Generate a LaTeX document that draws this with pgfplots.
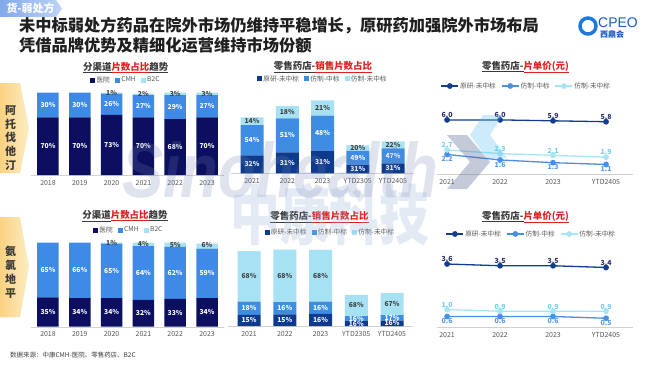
\documentclass[border=0pt]{standalone}
\usepackage{pgfplots}
\pgfplotsset{compat=1.18}
\usepackage{fontspec}
\setmainfont{Noto Sans CJK SC}
\newfontfamily\wmfont{Liberation Sans}
\definecolor{hosp}{RGB}{12,14,96}
\definecolor{cmh}{RGB}{62,138,230}
\definecolor{btc}{RGB}{166,226,243}
\definecolor{yy}{RGB}{13,58,140}
\definecolor{fz}{RGB}{63,141,227}
\definecolor{fw}{RGB}{166,226,243}
\definecolor{lyy}{RGB}{18,61,142}
\definecolor{lfz}{RGB}{74,143,226}
\definecolor{lfw}{RGB}{168,228,245}
\definecolor{tyy}{RGB}{43,47,107}
\definecolor{tfz}{RGB}{90,155,230}
\definecolor{tfw}{RGB}{120,205,240}
\definecolor{tred}{RGB}{224,32,32}
\definecolor{tdark}{RGB}{58,58,58}
\definecolor{tickc}{RGB}{89,89,89}
\definecolor{lbdark}{RGB}{64,64,64}
\definecolor{chevA}{RGB}{90,105,145}
\definecolor{chevB}{RGB}{90,190,240}
\definecolor{wmA}{RGB}{110,130,175}
\definecolor{wmB}{RGB}{150,175,215}
\definecolor{logoc}{RGB}{25,90,195}
\definecolor{ringc}{RGB}{30,120,225}
\pgfplotsset{
  /pgf/number format/assume math mode=true,
  base/.style={scale only axis, clip=false, axis x line*=bottom, hide y axis,
    x axis line style={draw=black!18,-}, xtick style={draw=none}, major tick length=0pt,
    ticklabel style={font=\fontsize{7}{8}\selectfont, text=tickc},
    xticklabel style={yshift=-1.5bp},
    legend style={draw=none, fill=none, font=\fontsize{6.7}{8}\selectfont, text=tickc,
      nodes={inner sep=1.2bp},
      legend columns=3, /tikz/every even column/.append style={column sep=4bp}}},
  sq/.style={legend image code/.code={\fill[##1] (0bp,-2.5bp) rectangle (5bp,2.5bp);}},
  lab/.style={scale only axis, clip=false, hide axis},
  seglab/.style={draw=none, mark=none, point meta=explicit symbolic,
    nodes near coords={\pgfplotspointmeta\%},
    every node near coord/.style={anchor=center, inner sep=0pt,
      font=\bfseries\fontsize{6.8}{7}\selectfont, text=#1}},
  linelab/.style 2 args={nodes near coords={\pgfmathprintnumber[fixed,fixed zerofill,precision=1]{\pgfplotspointmeta}},
    every node near coord/.style={anchor=#1, inner sep=1.5bp, font=\bfseries\fontsize{7}{8}\selectfont, text=#2}},
}
\begin{document}
\begin{tikzpicture}[x=1bp,y=1bp]
\path[use as bounding box, fill=white] (0,0) rectangle (650,365);
% tag
\shade[left color={rgb,255:red,130;green,168;blue,234}, right color={rgb,255:red,190;green,212;blue,248}]
  (0,365) -- (56,365) -- (62,356.5) -- (56,348) -- (0,348) -- cycle;
\node[anchor=west, text=white, font=\bfseries\fontsize{11}{12}\selectfont] at (3,356.5) {货-弱处方};
% title
\node[anchor=west, inner sep=0pt, font=\bfseries\fontsize{16.3}{17}\selectfont, text=black!88] at (19,339) {未中标弱处方药品在院外市场仍维持平稳增长，原研药加强院外市场布局};
\node[anchor=west, inner sep=0pt, font=\bfseries\fontsize{16.3}{17}\selectfont, text=black!88] at (19,320) {凭借品牌优势及精细化运营维持市场份额};
% logo
\draw[line width=3.5, ringc] (588,339) circle (8);
\node[anchor=west, inner sep=0pt, font=\wmfont\fontsize{14}{14}\selectfont, text=logoc] at (598,342) {CPEO};
\node[anchor=west, inner sep=0pt, font=\bfseries\fontsize{8}{8}\selectfont, text=logoc] at (600,331) {西鼎会};
% row labels
\shade[left color={rgb,255:red,250;green,210;blue,130}, right color={rgb,255:red,253;green,236;blue,195}]
  (0,282) -- (20,282) -- (29,237) -- (20,192) -- (0,192) -- cycle;
\node[align=center, font=\bfseries\fontsize{11}{14}\selectfont, text=tdark] at (10.5,227) {阿\\托\\伐\\他\\汀};
\shade[left color={rgb,255:red,250;green,210;blue,130}, right color={rgb,255:red,253;green,236;blue,195}]
  (0,148) -- (20,148) -- (29,98) -- (20,48) -- (0,48) -- cycle;
\node[align=center, font=\bfseries\fontsize{11}{14}\selectfont, text=tdark] at (10.5,93) {氨\\氯\\地\\平};
% panel titles
\node[inner sep=0pt, font=\bfseries\fontsize{9.5}{10}\selectfont] at (125.7,297.3) {{\color{tdark}\underline{分渠道}}{\color{tred}\underline{片数占比}}{\color{tdark}\underline{趋势}}};
\node[inner sep=0pt, font=\bfseries\fontsize{9.5}{10}\selectfont] at (125,149.3) {{\color{tdark}\underline{分渠道}}{\color{tred}\underline{片数占比}}{\color{tdark}\underline{趋势}}};
\node[inner sep=0pt, font=\bfseries\fontsize{9.5}{10}\selectfont] at (323,298) {{\color{tdark}\underline{零售药店-}}{\color{tred}\underline{销售片数占比}}};
\node[inner sep=0pt, font=\bfseries\fontsize{9.5}{10}\selectfont] at (319.5,148) {{\color{tdark}\underline{零售药店-}}{\color{tred}\underline{销售片数占比}}};
\node[inner sep=0pt, font=\bfseries\fontsize{9.5}{10}\selectfont] at (525.5,298) {{\color{tdark}\underline{零售药店-}}{\color{tred}\underline{片单价(元)}}};
\node[inner sep=0pt, font=\bfseries\fontsize{9.5}{10}\selectfont] at (525.5,148) {{\color{tdark}\underline{零售药店-}}{\color{tred}\underline{片单价(元)}}};
% source
\node[anchor=west, inner sep=0pt, font=\fontsize{6.5}{7}\selectfont, text=lbdark] at (10,10) {数据来源：中康CMH-医院、零售药店、B2C};

% ===== Left top =====
\begin{axis}[base, at={(30.5bp,190bp)}, anchor=south west, width=194bp, height=82.3bp,
  ybar stacked, bar width=21.5bp, xmin=-0.55, xmax=5.55, ymin=0, ymax=100,
  xtick={0,...,5}, xticklabels={2018,2019,2020,2021,2022,2023},
  legend style={at={(0.49,1.154)}, anchor=center}, sq]
\addplot[fill=hosp, draw=none] coordinates {(0,70)(1,70)(2,73)(3,70)(4,68)(5,70)};
\addplot[fill=cmh, draw=none] coordinates {(0,30)(1,30)(2,26)(3,27)(4,29)(5,27)};
\addplot[fill=btc, draw=none] coordinates {(0,0)(1,0)(2,1)(3,2)(4,3)(5,3)};
\legend{医院,CMH,B2C}
\end{axis}
\begin{axis}[lab, at={(30.5bp,190bp)}, anchor=south west, width=194bp, height=82.3bp,
  xmin=-0.55, xmax=5.55, ymin=0, ymax=100]
\addplot[seglab=white] coordinates {(0,35)[70] (1,35)[70] (2,36.5)[73] (3,35)[70] (4,34)[68] (5,35)[70]};
\addplot[seglab=white] coordinates {(0,85)[30] (1,85)[30] (2,86)[26] (3,83.5)[27] (4,82.5)[29] (5,83.5)[27]};
\addplot[seglab=lbdark] coordinates {(2,99.5)[1] (3,99)[2] (4,98.5)[3] (5,98.5)[3]};
\end{axis}

% ===== Left bottom =====
\begin{axis}[base, at={(30.5bp,38.3bp)}, anchor=south west, width=194bp, height=84bp,
  ybar stacked, bar width=21.5bp, xmin=-0.55, xmax=5.55, ymin=0, ymax=100,
  xtick={0,...,5}, xticklabels={2018,2019,2020,2021,2022,2023},
  legend style={at={(0.505,1.151)}, anchor=center}, sq]
\addplot[fill=hosp, draw=none] coordinates {(0,35)(1,34)(2,34)(3,32)(4,33)(5,34)};
\addplot[fill=cmh, draw=none] coordinates {(0,65)(1,66)(2,65)(3,64)(4,62)(5,59)};
\addplot[fill=btc, draw=none] coordinates {(0,0)(1,0)(2,1)(3,4)(4,5)(5,6)};
\legend{医院,CMH,B2C}
\end{axis}
\begin{axis}[lab, at={(30.5bp,38.3bp)}, anchor=south west, width=194bp, height=84bp,
  xmin=-0.55, xmax=5.55, ymin=0, ymax=100]
\addplot[seglab=white] coordinates {(0,17.5)[35] (1,17)[34] (2,17)[34] (3,16)[32] (4,16.5)[33] (5,17)[34]};
\addplot[seglab=white] coordinates {(0,67.5)[65] (1,67)[66] (2,66.5)[65] (3,64)[64] (4,64)[62] (5,63.5)[59]};
\addplot[seglab=lbdark] coordinates {(2,99.5)[1] (3,98)[4] (4,97.5)[5] (5,97)[6]};
\end{axis}

% ===== Middle top =====
\begin{axis}[base, at={(230.85bp,191.7bp)}, anchor=south west, width=183.3bp, height=80bp,
  ybar stacked, bar width=23bp, xmin=-0.6, xmax=4.6, ymin=0, ymax=80,
  xtick={0,...,4}, xticklabels={2021,2022,2023,YTD2305,YTD2405},
  legend style={at={(0.5,1.179)}, anchor=center}, sq]
\addplot[fill=yy, draw=none] coordinates {(0,17.9)(1,20.8)(2,22.6)(3,8.7)(4,9.9)};
\addplot[fill=fz, draw=none] coordinates {(0,30.2)(1,34.2)(2,35.0)(3,13.7)(4,15.0)};
\addplot[fill=fw, draw=none] coordinates {(0,7.8)(1,12.1)(2,15.3)(3,5.6)(4,7.0)};
\legend{原研-未中标,仿制-中标,仿制-未中标}
\end{axis}
\begin{axis}[lab, at={(230.85bp,191.7bp)}, anchor=south west, width=183.3bp, height=80bp,
  xmin=-0.6, xmax=4.6, ymin=0, ymax=80]
\addplot[seglab=white] coordinates {(0,8.95)[32] (1,10.4)[31] (2,11.3)[31] (3,4.35)[31] (4,4.95)[31]};
\addplot[seglab=white] coordinates {(0,33.0)[54] (1,37.9)[51] (2,40.1)[48] (3,15.55)[49] (4,17.4)[47]};
\addplot[seglab=lbdark] coordinates {(0,52.0)[14] (1,61.05)[18] (2,65.25)[21] (3,25.2)[20] (4,28.4)[22]};
\end{axis}

% ===== Middle bottom =====
\begin{axis}[base, at={(227.55bp,39bp)}, anchor=south west, width=185.9bp, height=80bp,
  ybar stacked, bar width=23bp, xmin=-0.6, xmax=4.6, ymin=0, ymax=80,
  xtick={0,...,4}, xticklabels={2021,2022,2023,YTD2305,YTD2405},
  legend style={at={(0.551,1.175)}, anchor=center}, sq]
\addplot[fill=yy, draw=none] coordinates {(0,11.1)(1,11.6)(2,12.2)(3,5.0)(4,5.3)};
\addplot[fill=fz, draw=none] coordinates {(0,13.4)(1,12.3)(2,12.2)(3,5.0)(4,5.6)};
\addplot[fill=fw, draw=none] coordinates {(0,50.5)(1,52.4)(2,51.7)(3,21.1)(4,22.1)};
\legend{原研-未中标,仿制-中标,仿制-未中标}
\end{axis}
\begin{axis}[lab, at={(227.55bp,39bp)}, anchor=south west, width=185.9bp, height=80bp,
  xmin=-0.6, xmax=4.6, ymin=0, ymax=80]
\addplot[seglab=white] coordinates {(0,5.55)[15] (1,5.8)[15] (2,6.1)[16] (3,2.5)[16] (4,2.65)[16]};
\addplot[seglab=white] coordinates {(0,17.8)[18] (1,17.75)[16] (2,18.3)[16] (3,7.5)[16] (4,8.1)[17]};
\addplot[seglab=lbdark] coordinates {(0,49.75)[68] (1,50.1)[68] (2,50.25)[68] (3,20.55)[68] (4,21.95)[67]};
\end{axis}

% ===== Right top =====
\begin{axis}[base, at={(437bp,190.5bp)}, anchor=south west, width=195.5bp, height=63.7bp,
  xmin=-0.19, xmax=3.5, ymin=0, ymax=7,
  xtick={0,...,3}, xticklabels={2021,2022,2023,YTD2405},
  legend style={at={(0.455,1.389)}, anchor=center}]
\addplot[lyy, line width=1.3bp, mark=*, mark size=2.2bp, linelab={south}{tyy}] coordinates {(0,6.0)(1,6.0)(2,5.9)(3,5.8)};
\addplot[lfz, line width=1.3bp, mark=*, mark size=2.2bp, linelab={north}{tfz}] coordinates {(0,2.2)(1,1.6)(2,1.3)(3,1.1)};
\addplot[lfw, line width=1.3bp, mark=*, mark size=2.2bp, linelab={south}{tfw}] coordinates {(0,2.7)(1,2.3)(2,2.1)(3,1.9)};
\legend{原研-未中标,仿制-中标,仿制-未中标}
\end{axis}

% ===== Right bottom =====
\begin{axis}[base, at={(437bp,38bp)}, anchor=south west, width=195.5bp, height=77bp,
  xmin=-0.19, xmax=3.5, ymin=0, ymax=4.4,
  xtick={0,...,3}, xticklabels={2021,2022,2023,YTD2405},
  legend style={at={(0.481,1.208)}, anchor=center}]
\addplot[lyy, line width=1.3bp, mark=*, mark size=2.2bp, linelab={south}{tyy}] coordinates {(0,3.6)(1,3.5)(2,3.5)(3,3.4)};
\addplot[lfz, line width=1.3bp, mark=*, mark size=2.2bp, linelab={north}{tfz}] coordinates {(0,0.6)(1,0.6)(2,0.6)(3,0.5)};
\addplot[lfw, line width=1.3bp, mark=*, mark size=2.2bp, linelab={south}{tfw}] coordinates {(0,1.0)(1,0.9)(2,0.9)(3,0.9)};
\legend{原研-未中标,仿制-中标,仿制-未中标}
\end{axis}

% watermark
\node[anchor=base west, inner sep=0pt, font=\wmfont\bfseries\itshape\fontsize{62}{62}\selectfont,
  text=wmA, opacity=0.22, yscale=1.25] at (122,168) {Sinohealth};
\node[anchor=west, inner sep=0pt, font=\bfseries\fontsize{50}{50}\selectfont,
  text=wmB, opacity=0.25, yscale=1.3] at (230,150) {中康科技};
\fill[chevA, opacity=0.35] (447,230) -- (467,230) -- (490,203) -- (467,176) -- (447,176) -- (470,203) -- cycle;
\fill[chevB, opacity=0.3] (483,250) -- (503,250) -- (490,230) -- (507,207) -- (487,207) -- (470,230) -- cycle;
\end{tikzpicture}
\end{document}
